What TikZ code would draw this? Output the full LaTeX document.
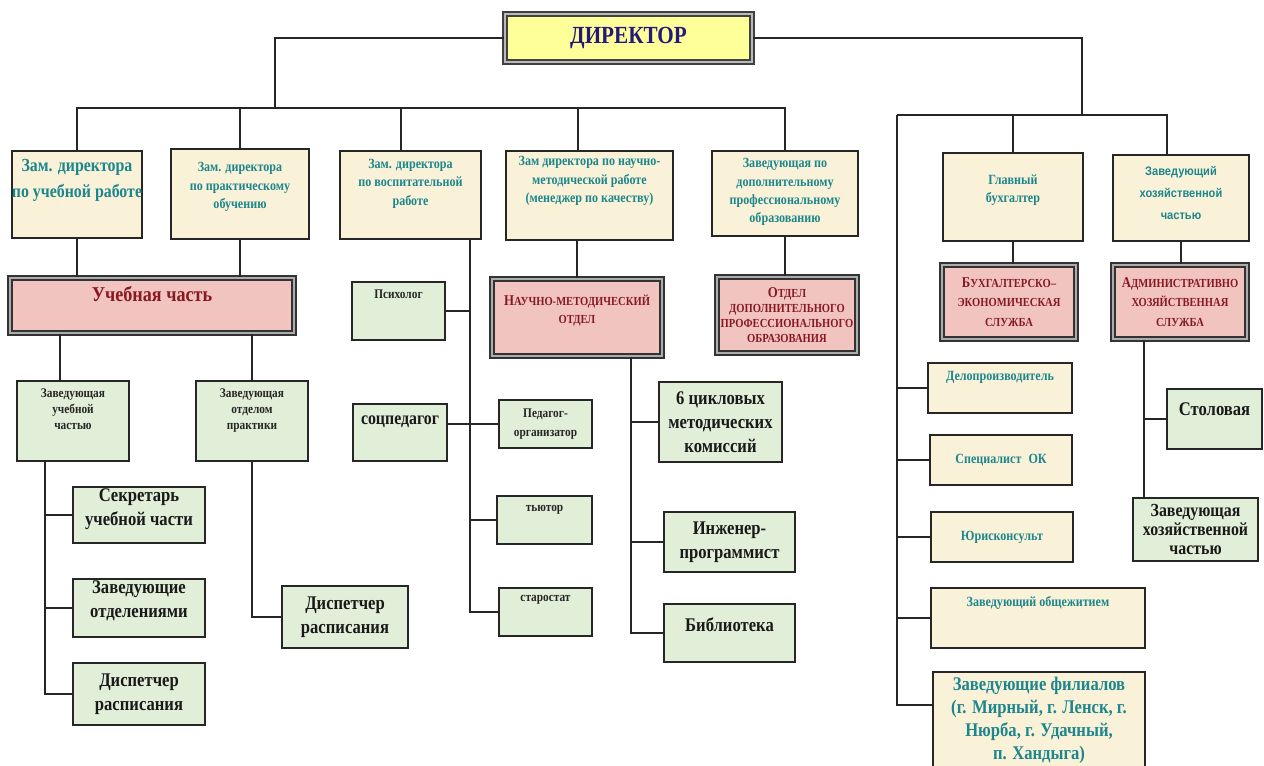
\documentclass[tikz,border=0pt]{standalone}
\usepackage{fontspec}
\setmainfont{Liberation Serif}[FakeStretch=0.86]
\newfontfamily\hozfont{Liberation Sans}[FakeStretch=0.9]
\usetikzlibrary{positioning,calc}

\definecolor{beigefill}{RGB}{250,242,216}
\definecolor{greenfill}{RGB}{225,238,216}
\definecolor{pinkfill}{RGB}{242,196,192}
\definecolor{yellowfill}{RGB}{255,255,153}
\definecolor{tealtext}{RGB}{28,134,140}
\definecolor{redtext}{RGB}{135,25,35}
\definecolor{bluetext}{RGB}{35,25,125}
\newcommand{\capl}[1]{{\fontsize{8.5}{10}\selectfont #1}}

\begin{document}
\begin{tikzpicture}[
		x=0.02cm, y=-0.02cm,
		link/.style={line width=1.1pt, draw=black!85},
		bbox/.style={draw=black!85, line width=1.1pt, fill=beigefill, inner sep=0pt},
		gbox/.style={draw=black!85, line width=1.1pt, fill=greenfill, inner sep=0pt},
		pbox/.style={draw=black!80, line width=0.7pt, double=gray!65, double distance=1.5pt, fill=pinkfill, inner sep=0pt},
		dbox/.style={draw=black!75, line width=0.9pt, double=gray!55, double distance=1.4pt, fill=yellowfill, inner sep=0pt},
		tsm/.style={text=tealtext, font=\bfseries\fontsize{8}{10.5}\selectfont, align=center, inner sep=0pt},
		tbig/.style={text=tealtext, font=\bfseries\fontsize{10.5}{15}\selectfont, align=center, inner sep=0pt},
		ksm/.style={text=black!85, font=\bfseries\fontsize{7.5}{9}\selectfont, align=center, inner sep=0pt},
		kbig/.style={text=black!90, font=\bfseries\fontsize{11}{13.5}\selectfont, align=center},
		rsm/.style={text=redtext, font=\bfseries\fontsize{7}{10}\selectfont, align=center},
	]
	\useasboundingbox (0,0) rectangle (1264,765);
	%% director
	\node (dir) at (628.5,38) [dbox, minimum width=4.94cm, minimum height=0.96cm,
		text=bluetext, font=\bfseries\fontsize{14}{16}\selectfont] {ДИРЕКТОР};
	%% deputies
	\node (zamuch) at (77,194.5) [bbox, minimum width=2.6cm, minimum height=1.74cm] {};
	\node (zamucht) [tbig, below=5pt of zamuch.north] {Зам. директора\\по учебной работе};
	\node (zamprak) at (240,194) [bbox, minimum width=2.76cm, minimum height=1.8cm] {};
	\node (zamprakt) [tsm, below=8pt of zamprak.north] {Зам. директора\\по практическому\\обучению};
	\node (zamvosp) at (410.5,195) [bbox, minimum width=2.82cm, minimum height=1.76cm] {};
	\node (zamvospt) [tsm, below=5pt of zamvosp.north] {Зам. директора\\по воспитательной\\работе};
	\node (zamnauch) at (589.5,195.5) [bbox, minimum width=3.34cm, minimum height=1.78cm] {};
	\node (zamnaucht) [tsm, below=3.5pt of zamnauch.north] {Зам директора по научно-\\методической работе\\(менеджер по качеству)};
	\node (zavdop) at (785,193.5) [bbox, minimum width=2.92cm, minimum height=1.7cm] {};
	\node (zavdopt) [tsm, below=4.5pt of zavdop.north] {Заведующая по\\дополнительному\\профессиональному\\образованию};
	\node (glbuh) at (1013,197) [bbox, minimum width=2.8cm, minimum height=1.76cm] {};
	\node (glbuht) [tsm, below=12.5pt of glbuh.north] {Главный\\бухгалтер};
	\node (zavhoz) at (1181,198) [bbox, minimum width=2.72cm, minimum height=1.72cm] {};
	\node (zavhozt) [tsm, font=\hozfont\bfseries\fontsize{7}{12.5}\selectfont, below=7pt of zavhoz.north] {Заведующий\\хозяйственной\\частью};
	%% departments
	\node (uch) at (152,305.5) [pbox, minimum width=5.68cm, minimum height=1.1cm] {};
	\node (ucht) [rsm, inner sep=0pt, font=\bfseries\fontsize{12}{14}\selectfont, below=5pt of uch.north] {Учебная часть};
	\node (nmo) at (577,317.5) [pbox, minimum width=3.4cm, minimum height=1.54cm] {};
	\node (nmot) [rsm, inner sep=0pt, below=9.5pt of nmo.north] {\capl{Н}АУЧНО-МЕТОДИЧЕСКИЙ\\ОТДЕЛ};
	\node (odpo) at (787,315) [pbox, rsm, font=\bfseries\fontsize{7}{8.5}\selectfont, minimum width=2.8cm, minimum height=1.52cm]
		{\capl{О}ТДЕЛ\\ДОПОЛНИТЕЛЬНОГО\\ПРОФЕССИОНАЛЬНОГО\\ОБРАЗОВАНИЯ};
	\node (bes) at (1009,302) [pbox, rsm, font=\bfseries\fontsize{7}{11}\selectfont, minimum width=2.68cm, minimum height=1.48cm]
		{\capl{Б}УХГАЛТЕРСКО–\\ЭКОНОМИЧЕСКАЯ\\СЛУЖБА};
	\node (ahs) at (1180,302) [pbox, rsm, font=\bfseries\fontsize{7}{11}\selectfont, minimum width=2.68cm, minimum height=1.48cm]
		{\capl{А}ДМИНИСТРАТИВНО\\ХОЗЯЙСТВЕННАЯ\\СЛУЖБА};
	%% study branch
	\node (zuch) at (73,421) [gbox, minimum width=2.24cm, minimum height=1.6cm] {};
	\node (zucht) [ksm, below=5pt of zuch.north] {Заведующая\\учебной\\частью};
	\node (zprak) at (252,421) [gbox, minimum width=2.24cm, minimum height=1.6cm] {};
	\node (zprakt) [ksm, below=5pt of zprak.north] {Заведующая\\отделом\\практики};
	\node (sekr) at (139,515) [gbox, minimum width=2.64cm, minimum height=1.12cm] {};
	\node (sekrt) [kbig, inner sep=0pt, below=1.5pt of sekr.north] {Секретарь\\учебной части};
	\node (zotd) at (139,608) [gbox, minimum width=2.64cm, minimum height=1.16cm] {};
	\node (zotdt) [kbig, inner sep=0pt, below=1.5pt of zotd.north] {Заведующие\\отделениями};
	\node (disp1) at (139,694) [gbox, kbig, minimum width=2.64cm, minimum height=1.24cm] {Диспетчер\\расписания};
	\node (disp2) at (345,617) [gbox, kbig, minimum width=2.52cm, minimum height=1.24cm] {Диспетчер\\расписания};
	%% upbringing branch
	\node (psy) at (398.5,311) [gbox, minimum width=1.86cm, minimum height=1.16cm] {};
	\node (psyt) [ksm, below=5pt of psy.north] {Психолог};
	\node (socp) at (400,432.5) [gbox, minimum width=1.88cm, minimum height=1.14cm] {};
	\node (socpt) [kbig, inner sep=0pt, font=\bfseries\fontsize{10.5}{12}\selectfont, below=7pt of socp.north] {соцпедагог};
	\node (pedorg) at (545.5,424) [gbox, ksm, font=\bfseries\fontsize{7.5}{11}\selectfont, minimum width=1.86cm, minimum height=0.96cm] {Педагог-\\организатор};
	\node (tutor) at (544.5,520) [gbox, minimum width=1.9cm, minimum height=0.96cm] {};
	\node (tutort) [ksm, below=5.5pt of tutor.north] {тьютор};
	\node (star) at (545.5,612) [gbox, minimum width=1.86cm, minimum height=0.96cm] {};
	\node (start) [ksm, below=4.5pt of star.north] {старостат};
	%% methodical branch
	\node (cmk) at (720.5,422) [gbox, kbig, minimum width=2.46cm, minimum height=1.6cm] {6 цикловых\\методических\\комиссий};
	\node (ing) at (729.5,542) [gbox, kbig, minimum width=2.62cm, minimum height=1.2cm] {Инженер-\\программист};
	\node (bib) at (729.5,633) [gbox, minimum width=2.62cm, minimum height=1.16cm] {};
	\node (bibt) [kbig, inner sep=0pt, below=8pt of bib.north] {Библиотека};
	%% economic branch
	\node (stol) at (1214.5,419) [gbox, minimum width=1.9cm, minimum height=1.2cm] {};
	\node (stolt) [kbig, inner sep=0pt, below=8pt of stol.north] {Столовая};
	\node (zavhoz2) at (1195.5,529.5) [gbox, kbig, font=\bfseries\fontsize{10.5}{11}\selectfont, minimum width=2.5cm, minimum height=1.26cm] {Заведующая\\хозяйственной\\частью};
	\node (delo) at (1000,388) [bbox, minimum width=2.88cm, minimum height=1cm] {};
	\node (delot) [tsm, below=5pt of delo.north] {Делопроизводитель};
	\node (spec) at (1001,460) [bbox, tsm, minimum width=2.84cm, minimum height=1cm] {Специалист\enspace ОК};
	\node (jur) at (1002,537) [bbox, tsm, minimum width=2.84cm, minimum height=1cm] {Юрисконсульт};
	\node (obsch) at (1038,618) [bbox, minimum width=4.28cm, minimum height=1.2cm] {};
	\node (obscht) [tsm, below=5pt of obsch.north] {Заведующий общежитием};
	\node (fil) at (1039,726) [bbox, minimum width=4.24cm, minimum height=2.16cm] {};
	\node (filt) [tbig, font=\bfseries\fontsize{11}{13}\selectfont, below=3.5pt of fil.north] {Заведующие филиалов\\(г. Мирный, г. Ленск, г.\\Нюрба, г. Удачный,\\п. Хандыга)};
	%% top buses
	\coordinate (lbus) at (275,108);
	\coordinate (rbus) at (1082,115);
	\coordinate (rb) at (897,115);
	\draw[link] (dir.west) -| (lbus);
	\draw[link] (dir.east) -| (rbus);
	\draw[link] (zamuch.north) |- (zavdop.north |- lbus) -- (zavdop.north);
	\draw[link] (zamprak.north) -- (zamprak.north |- lbus);
	\draw[link] ([xshift=-0.19cm]zamvosp.north) -- ([xshift=-0.19cm]zamvosp.north |- lbus);
	\draw[link] ([xshift=-0.23cm]zamnauch.north) -- ([xshift=-0.23cm]zamnauch.north |- lbus);
	\draw[link] (glbuh.north) -- (glbuh.north |- rb);
	\draw[link] (rb) -| ([xshift=-0.28cm]zavhoz.north);
	%% study links
	\draw[link] (zamuch.south) -- (zamuch.south |- uch.north);
	\draw[link] (zamprak.south) -- (zamprak.south |- uch.north);
	\draw[link] ([xshift=-0.26cm]zuch.north) -- ([xshift=-0.26cm]zuch.north |- uch.south);
	\draw[link] (zprak.north) -- (zprak.north |- uch.south);
	\coordinate (zb) at ($(zuch.south west)+(29,0)$);
	\draw[link] (zb) |- (disp1.west);
	\draw[link] (sekr.west) -- (sekr.west -| zb);
	\draw[link] (zotd.west) -- (zotd.west -| zb);
	\draw[link] (zprak.south) |- (disp2.west);
	%% upbringing links
	\coordinate (vb) at ($(zamvosp.south west)+(131,0)$);
	\draw[link] (vb) |- (star.west);
	\draw[link] (psy.east) -- (psy.east -| vb);
	\draw[link] (socp.east |- pedorg.west) -- (pedorg.west);
	\draw[link] (tutor.west) -- (tutor.west -| vb);
	%% methodical links
	\draw[link] (nmo.north |- zamnauch.south) -- (nmo.north);
	\coordinate (nb) at ($(nmo.south west)+(140,0)$);
	\draw[link] (nb) |- (bib.west);
	\draw[link] (cmk.west) -- (cmk.west -| nb);
	\draw[link] (ing.west) -- (ing.west -| nb);
	\draw[link] (zavdop.south) -- (zavdop.south |- odpo.north);
	%% economic links
	\draw[link] (rb) |- (delo.west);
	\draw[link] (rb) |- (spec.west);
	\draw[link] (rb) |- (jur.west);
	\draw[link] (rb) |- (obsch.west);
	\draw[link] (rb) |- ([yshift=-0.68cm]fil.north west);
	\draw[link] (glbuh.south) -- (glbuh.south |- bes.north);
	\draw[link] (zavhoz.south) -- (zavhoz.south |- ahs.north);
	\coordinate (ab) at ($(ahs.south west)+(32,0)$);
	\draw[link] (ab) -- (ab |- zavhoz2.north);
	\draw[link] (stol.west) -- (stol.west -| ab);
\end{tikzpicture}
\end{document}
